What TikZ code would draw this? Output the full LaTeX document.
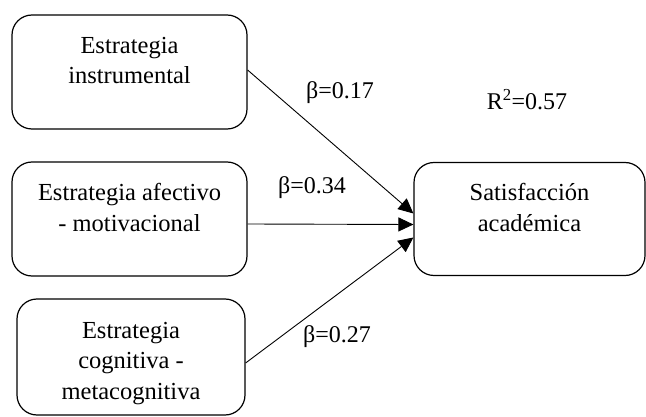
\documentclass[tikz,border=0pt]{standalone}
\usepackage{fontspec}
\setmainfont{Liberation Serif}
\usetikzlibrary{arrows.meta}

\begin{document}
\begin{tikzpicture}[x=1pt, y=-1pt, node distance=147pt, box/.style={rectangle, draw, line width=1.2pt, rounded corners=20pt, align=center, minimum width=235pt, minimum height=114pt, font=\fontsize{24.5}{30.5}\selectfont}, coef/.style={font=\fontsize{24}{28}\selectfont}, effect/.style={-{Triangle[length=15pt, width=14pt]}, line width=0.9pt}]
	\useasboundingbox (0,0) rectangle (646,417);

	% nodes
	\node[box, text depth=23pt] (instr) at (129.5,72) {Estrategia\\instrumental};%
	\node[box, text depth=23pt, below of=instr] (afect) {Estrategia afectivo\\- motivacional}; %
	\node[box, minimum width=228pt, minimum height=116pt, text height=90pt, below of=afect, xshift=1.5pt, yshift=9pt] (cogn) {Estrategia\\cognitiva -\\metacognitiva}; %
	\node[box, minimum width=231pt, minimum height=113pt, text depth=23pt, right of=afect, xshift=253pt] (satis) {Satisfacción\\académica}; %

	% labels
	\node[coef] (b1) at (340,93) {β=0.17}; %
	\node[coef] (b2) at (312,188) {β=0.34}; %
	\node[coef] (b3) at (337,337) {β=0.27}; %
	\node[coef] (r2) at (527,100) {R\textsuperscript{2}=0.57}; %

	% edges
	\draw [effect] ([yshift=2pt]instr.east) -- ([yshift=5.5pt]satis.west);
	\draw [effect] ([yshift=-5pt]afect.east) -- ([yshift=-5.5pt]satis.west);
	\draw [effect] ([yshift=-6pt]cogn.east) -- ([yshift=-18.5pt]satis.west);
\end{tikzpicture}
\end{document}
